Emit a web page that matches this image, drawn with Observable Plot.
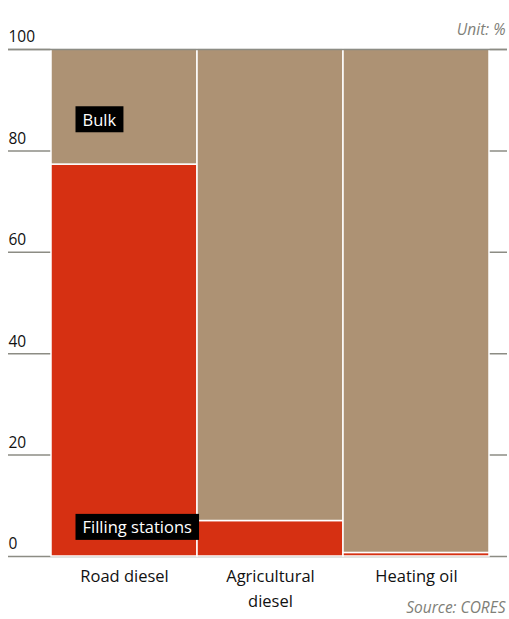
<!DOCTYPE html>
<html><head><meta charset="utf-8">
<script src="https://cdn.jsdelivr.net/npm/d3@7"></script>
<script src="https://cdn.jsdelivr.net/npm/@observablehq/plot@0.6"></script>
<style>body{margin:0;background:#fff;} svg{display:block}</style>
</head><body><div id="chart"></div>
<script>
const categories = ["Road diesel", "Agricultural diesel", "Heating oil"];
const categoryLabels = ["Road diesel", "Agricultural\ndiesel", "Heating oil"];
const fillingStations = [77.3, 7.0, 0.7];
const bulk = [22.7, 93.0, 99.3];
const yTicks = [0, 20, 40, 60, 80, 100];
const seriesNames = ["Filling stations", "Bulk"];
const seriesColors = ["#d63012", "#ad9274"];
const segmentLabels = ["Bulk", "Filling stations"];
const segmentLabelValues = [86, 5.6];

const rows = [];
categories.forEach((c, i) => {
  rows.push({category: c, series: "Filling stations", value: fillingStations[i]});
  rows.push({category: c, series: "Bulk", value: bulk[i]});
});
const labelRows = segmentLabels.map((t, i) => ({category: categories[0], value: segmentLabelValues[i], text: t}));

const plot = Plot.plot({
  width: 509, height: 619,
  marginTop: 49, marginBottom: 63, marginLeft: 8, marginRight: 2,
  style: {fontFamily: "'Open Sans', Lato, sans-serif", fontSize: "16px", color: "#111", background: "#fff"},
  x: {domain: categories, paddingInner: 0, paddingOuter: 0.203, align: 0.70, axis: null},
  y: {domain: [0, 100], axis: null},
  color: {domain: seriesNames, range: seriesColors},
  marks: [
    Plot.ruleY(yTicks, {stroke: "#8c8c84", strokeWidth: 1.5}),
    Plot.barY(rows, {x: "category", y: "value", fill: "series", order: seriesNames, stroke: "#fff", strokeWidth: 1.5}),
    Plot.ruleY([100], {stroke: "#8c8c84", strokeWidth: 1.5}),
    Plot.text(yTicks, {y: d => d, text: d => String(d), frameAnchor: "left", textAnchor: "start", dy: -12, fontSize: 15.5, fill: "#111"}),
    Plot.axisX({domain: categories, label: null, tickSize: 0, tickPadding: 8, fontSize: 16.5, lineHeight: 1.5, fill: "#111",
      tickFormat: d => categoryLabels[categories.indexOf(d)]}),
    Plot.text(labelRows, {x: "category", y: "value", text: "text", textAnchor: "start", dx: -42, fill: "#fff", fontSize: 16.5}),
    Plot.text(["Unit: %"], {text: d => d, frameAnchor: "top-right", textAnchor: "end", dx: -2, dy: -26, fill: "#808078", fontStyle: "italic", fontSize: 15.5}),
    Plot.text(["Source: CORES"], {text: d => d, frameAnchor: "bottom-right", textAnchor: "end", dx: -2, dy: 56, fill: "#808078", fontStyle: "italic", fontSize: 15.5})
  ]
});
document.getElementById("chart").appendChild(plot);

// black label backgrounds behind segment labels
d3.select(plot).selectAll("text").each(function() {
  if (segmentLabels.includes(this.textContent)) {
    const b = this.getBBox();
    const pad = 7;
    const r = d3.select(this.parentNode).insert("rect", () => this)
      .attr("x", b.x - pad).attr("y", b.y - 1.5)
      .attr("width", b.width + 2 * pad).attr("height", b.height + 3)
      .attr("fill", "#000");
    const t = this.getAttribute("transform");
    if (t) r.attr("transform", t);
  }
});
</script>
</body></html>
